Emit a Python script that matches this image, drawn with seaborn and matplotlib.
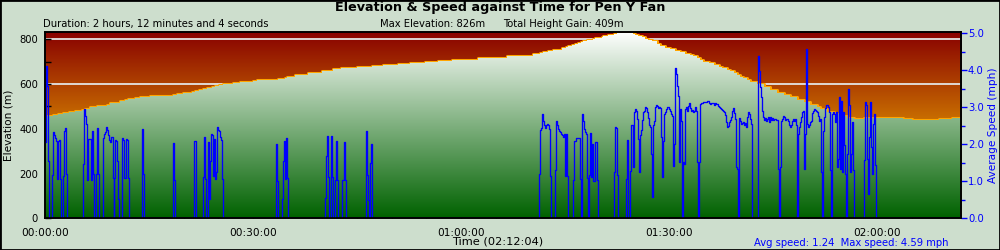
import numpy as np
import matplotlib
matplotlib.use("Agg")
import matplotlib.pyplot as plt
from matplotlib.colors import LinearSegmentedColormap
from matplotlib.patches import PathPatch, Rectangle
from matplotlib.ticker import MultipleLocator, FuncFormatter, FormatStrFormatter
import seaborn as sns
import pandas as pd

# ---------------- data (time in minutes) ----------------
elev_time = [0.00, 1.20, 1.92, 2.55, 3.50, 4.33, 5.29, 5.77, 6.49, 7.46, 8.65, 8.90, 9.37,
             10.10, 10.82, 11.54, 12.01, 12.98, 13.70, 14.18, 15.14, 18.42, 18.50, 19.08,
             19.86, 21.16, 21.63, 22.25, 22.83, 23.32, 24.04, 24.52, 25.10, 25.72, 26.44,
             27.16, 28.12, 29.32, 30.04, 30.53, 31.59, 33.50, 33.65, 34.62, 34.95, 36.06,
             37.25, 37.98, 38.94, 39.91, 40.86, 41.58, 42.55, 42.69, 44.96, 47.12, 48.79,
             50.96, 52.64, 54.81, 56.72, 58.66, 60.58, 62.49, 64.66, 66.59, 68.51, 70.43,
             71.39, 71.87, 72.59, 73.31, 74.03, 74.61, 75.10, 75.47, 75.97, 76.44, 76.83,
             77.31, 77.64, 78.13, 79.08, 79.33, 80.29, 80.52, 81.24, 81.97, 82.45, 84.62,
             84.85, 85.09, 85.57, 86.06, 86.54, 87.01, 87.50, 88.22, 88.70, 89.42, 90.14,
             90.86, 91.58, 92.31, 93.03, 93.50, 93.99, 94.47, 94.94, 95.67, 96.39, 97.11,
             97.60, 98.32, 98.80, 99.27, 99.76, 100.24, 100.71, 101.20, 101.68, 102.65,
             103.60, 104.56, 105.53, 106.48, 107.45, 108.41, 109.37, 110.33, 111.30, 111.78,
             112.74, 113.69, 114.66, 115.63, 116.58, 118.02, 123.75, 125.00, 127.17, 128.84,
             130.77, 132.07]
elev_m = [457, 462, 468, 471, 475, 480, 484, 490, 496, 501, 502, 507, 513,
          517, 523, 529, 534, 536, 540, 544, 545, 545, 550, 554,
          559, 563, 569, 574, 578, 583, 587, 592, 596, 599, 600,
          604, 608, 611, 615, 618, 620, 620, 624, 629, 633, 638,
          642, 647, 651, 656, 660, 665, 666, 671, 675, 681, 686,
          690, 694, 697, 702, 706, 709, 714, 718, 723, 727, 732,
          738, 742, 747, 750, 754, 759, 765, 770, 775, 779, 785,
          788, 793, 797, 800, 806, 809, 815, 820, 824, 826, 826,
          824, 820, 815, 809, 803, 797, 790, 779, 772, 763, 756,
          748, 741, 735, 729, 723, 715, 708, 700, 693, 686, 678,
          671, 663, 656, 648, 641, 633, 626, 618, 611, 599,
          586, 574, 562, 550, 540, 529, 519, 508, 496, 489,
          477, 465, 455, 447, 443, 447, 443, 437, 440, 443,
          447, 444]

speed_time = [
    0.00, 0.14, 0.29, 0.43, 0.58, 1.05, 1.11, 1.25, 1.40, 1.54, 1.69, 1.83, 1.98, 2.12, 2.26,
    2.60, 2.74, 2.88, 3.03, 3.17,
    5.48, 5.62, 5.77, 5.91, 6.06, 6.13, 6.25, 6.63, 6.78, 6.92, 7.07, 7.36, 7.50, 7.64, 7.79,
    8.37, 8.51, 8.65, 8.80, 8.94, 9.09, 9.23, 9.37, 9.52, 9.66, 9.74, 9.88, 9.95, 10.14, 10.28,
    10.43, 10.57, 10.72, 11.11, 11.25, 11.39, 11.54, 11.68, 11.83, 11.97, 12.12,
    13.99, 14.13, 14.28, 18.42, 18.46, 18.61, 18.75, 21.42, 21.53, 21.71, 21.78,
    22.79, 22.93, 23.08, 23.22, 23.47, 23.61, 23.75, 23.94, 24.09, 24.23, 24.37, 24.52, 24.66,
    24.81, 25.00, 25.14, 25.28, 25.43, 25.57, 25.72,
    33.32, 33.46, 33.61, 34.18, 34.33, 34.51, 34.66, 34.80, 34.95, 35.09,
    40.38, 40.53, 40.67, 40.82, 40.96, 41.25, 41.39, 41.54, 41.83, 41.97, 42.11, 42.26,
    42.84, 43.05, 43.27, 43.41, 46.30, 46.44, 46.59, 46.73, 46.87, 47.02, 47.16,
    71.25, 71.39, 71.54, 71.68, 71.87, 72.01, 72.16, 72.30, 72.44, 72.59, 72.73, 72.88, 73.02,
    73.60, 73.70, 73.84, 73.99, 74.13, 74.28, 74.42, 74.57, 74.71, 74.85, 75.00, 75.14, 75.29,
    75.43, 76.15, 76.30, 76.58, 77.16, 77.31, 77.45, 77.59, 77.74, 77.88, 78.03, 78.17, 78.31,
    78.46, 78.60, 78.75, 78.89, 79.04, 79.32, 79.61, 79.76,
    82.11, 82.21, 82.36, 82.50, 82.60, 83.80, 83.94, 84.08,
    84.37, 84.51, 84.66, 84.80, 84.95, 85.09, 85.24, 85.38, 85.52, 85.67, 85.81, 85.96, 86.10,
    86.25, 86.39, 86.54, 86.68, 86.82, 86.97, 87.11, 87.26, 87.40, 87.54, 87.69, 87.83, 87.98,
    88.12, 88.27, 88.41, 88.56, 88.70, 88.84, 88.99, 89.13, 89.28, 89.42, 89.57, 89.71, 89.85,
    90.00, 90.14, 90.29, 90.43, 90.58, 90.72, 90.86, 91.01, 91.15, 91.30, 91.44, 91.59, 91.73,
    91.87, 92.02, 92.16, 92.31, 92.45, 92.60, 92.74, 92.88, 93.03, 93.17, 93.32, 93.46, 93.61,
    93.75, 93.89, 94.04, 94.18, 94.33, 94.47, 94.62, 94.76, 94.90, 95.05, 95.19, 95.34, 95.48,
    95.63, 95.77, 95.91, 96.06, 96.20, 96.35, 96.49, 96.64, 96.78, 96.92, 97.07, 97.21, 97.36,
    97.50, 97.65, 97.79, 97.93, 98.08, 98.22, 98.37, 98.51, 98.66, 98.80, 98.94, 99.09, 99.23,
    99.38, 99.52, 99.67, 99.81, 99.95, 100.10, 100.24, 100.39, 100.53, 100.68, 100.82, 100.96,
    101.11, 101.25, 101.40, 101.54, 101.69, 101.83, 101.97,
    102.84, 102.98, 103.13, 103.27, 103.42, 103.56, 103.70, 103.85, 103.99, 104.14, 104.28,
    104.43, 104.57, 104.71, 104.86, 105.00, 105.15, 105.29, 105.44, 105.58, 105.72, 105.87,
    106.01, 106.16, 106.30, 106.45, 106.59, 106.73, 106.88, 107.02, 107.17, 107.31, 107.46,
    107.60, 107.74, 107.89, 108.03, 108.18, 108.32, 108.47, 108.61, 108.75, 108.90, 109.04,
    109.19, 109.33, 109.48, 109.62, 109.76, 109.91, 110.05, 110.20, 110.34, 110.49, 110.63,
    110.77, 110.92, 111.06, 111.21, 111.35, 111.50, 111.64, 111.78, 111.93, 112.07, 112.22,
    112.36, 112.51, 112.65, 112.79, 112.94, 113.08, 113.23, 113.37, 113.52, 113.66, 113.80,
    113.95, 114.09, 114.24, 114.38, 114.53, 114.67, 114.81, 114.96, 115.10, 115.25, 115.39,
    115.54, 115.68, 115.82, 115.97, 116.11, 116.26, 116.40, 116.55, 116.69,
    118.13, 118.28, 118.42, 118.57, 118.71, 118.86, 119.00, 119.15, 119.29, 119.43, 119.58,
    119.72, 119.87, 132.07]
speed_mph = [
    2.06, 4.12, 3.58, 1.54, 0, 1.16, 2.33, 2.26, 2.17, 2.08, 1.06, 2.08, 2.12, 1.06, 0,
    1.15, 2.37, 2.45, 1.21, 0,
    1.48, 2.96, 2.78, 2.54, 1.03, 2.10, 2.15, 1.03, 2.37, 1.19, 0, 1.21, 2.45, 1.21, 0,
    2.18, 2.27, 2.33, 2.46, 2.40, 2.24, 2.13, 2.06, 2.20, 2.20, 1.08, 0, 1.08, 2.12, 2.08,
    1.54, 0.51, 0, 2.18, 2.13, 1.08, 1.08, 2.15, 2.12, 1.08, 0,
    2.42, 1.21, 0, 1.03, 2.04, 1.03, 0, 1.06, 2.10, 1.03, 0,
    1.12, 2.21, 1.06, 0, 2.05, 0.52, 1.55, 2.28, 2.26, 1.15, 2.15, 1.06, 1.25,
    2.48, 2.39, 2.37, 2.21, 2.13, 1.06, 0,
    2.02, 1.00, 0, 0.51, 1.54, 2.08, 1.06, 2.18, 1.08, 0,
    0.54, 1.68, 2.23, 1.12, 0, 2.23, 1.12, 0, 1.03, 2.10, 1.03, 0,
    1.03, 2.05, 1.03, 0, 2.35, 1.16, 0.49, 0, 1.50, 2.02, 0,
    1.19, 2.40, 2.44, 2.82, 2.64, 2.51, 2.45, 2.51, 2.55, 2.51, 2.42, 1.14, 0,
    1.30, 2.62, 2.51, 2.42, 2.37, 2.33, 2.27, 2.24, 2.20, 2.27, 1.14, 2.28, 1.14,
    0, 1.03, 2.08, 2.18, 1.06, 0, 2.82, 2.64, 2.42, 2.33, 2.28, 1.08, 0,
    1.16, 2.32, 1.12, 2.02, 1.00, 2.05, 1.03, 0,
    1.24, 2.48, 2.43, 1.18, 0, 1.06, 2.13, 0,
    1.27, 2.53, 2.51, 1.39, 2.87, 2.96, 2.91, 2.69, 2.15, 1.25, 2.24, 2.39, 2.66,
    2.87, 2.91, 3.00, 2.98, 2.87, 2.72, 2.51, 2.46, 1.75, 0.58, 2.51, 2.64, 3.00,
    3.07, 3.05, 2.98, 3.00, 2.98, 2.20, 1.12, 2.10, 2.82, 2.87, 2.96, 3.00, 3.02,
    2.96, 2.89, 2.82, 2.78, 1.42, 2.02, 4.06, 3.90, 3.58, 3.32, 1.52, 2.96, 2.64,
    0, 1.52, 1.48, 2.96, 3.00, 2.91, 3.05, 3.11, 2.98, 2.91, 2.93, 2.87, 2.91,
    3.02, 2.91, 1.52, 0, 1.52, 3.09, 3.11, 3.11, 3.14, 3.15, 3.14, 3.15, 3.18,
    3.16, 3.11, 3.09, 3.11, 3.12, 3.11, 3.07, 3.11, 3.09, 3.09, 3.05, 3.00, 2.98,
    2.96, 2.93, 2.89, 2.87, 2.80, 2.60, 2.46, 2.49, 2.60, 2.66, 2.73, 2.91, 2.97,
    2.84, 2.69, 1.39, 1.34, 0, 2.71, 2.64, 2.55, 2.57, 2.60, 2.53, 2.57,
    2.46, 2.73, 2.87, 2.82, 2.69, 2.55, 0,
    4.39, 3.99, 3.54, 3.27, 2.91, 2.75, 2.66, 2.71, 2.64, 2.69, 2.73,
    2.60, 2.73, 2.66, 2.71, 2.66, 2.69, 2.69, 2.66, 2.66, 1.34, 0,
    1.39, 2.64, 2.69, 2.78, 2.73, 2.66, 2.69, 2.69, 2.64, 2.51, 2.46,
    2.51, 2.64, 2.69, 2.64, 2.69, 2.51, 0, 2.28, 2.46, 2.60, 2.73,
    2.87, 2.91, 1.34, 2.28, 4.59, 2.55, 2.46, 2.51, 2.60, 2.64, 2.84,
    2.91, 2.96, 2.93, 2.91, 2.87, 2.78, 2.64, 2.69, 1.25, 0, 2.37,
    2.75, 2.98, 3.07, 3.07, 3.00, 2.87, 1.30, 0, 2.82, 2.87, 2.82,
    2.60, 2.87, 1.39, 1.61, 3.27, 1.34, 3.18, 1.25, 2.87, 1.97, 1.21,
    0, 1.75, 3.49, 3.07, 1.25, 1.75, 2.60, 1.30, 0,
    1.57, 3.14, 3.07, 1.61, 0.67, 2.20, 3.14, 1.93, 1.21, 2.55, 2.82,
    1.43, 0, 0]

x_major_labels_step = 30   # minutes
title = "Elevation & Speed against Time for Pen Y Fan"
duration_text = "Duration: 2 hours, 12 minutes and 4 seconds"
max_elev_text = "Max Elevation: 826m"
gain_text = "Total Height Gain: 409m"
xlabel_text = "Time (02:12:04)"
speed_summary = "Avg speed: 1.24  Max speed: 4.59 mph"

DURATION_MIN = 132.07
ELEV_TOP = 831
SPEED_TOP = 5.03

# ---------------- style ----------------
sns.set_theme(style="white")
plt.rcParams["font.family"] = ["DejaVu Sans"]
plt.rcParams["text.color"] = "black"
plt.rcParams["axes.labelcolor"] = "black"
BG = "#cddecd"

fig = plt.figure(figsize=(10, 2.5), dpi=100, facecolor=BG)
ax = fig.add_axes([0.045, 0.1268, 0.916, 0.744])
ax.set_xlim(0, DURATION_MIN)
ax.set_ylim(0, ELEV_TOP)

grad = np.linspace(0, 1, 512).reshape(-1, 1)
sky = LinearSegmentedColormap.from_list("sky", [(0, "#ffae00"), (0.5, "#cc7400"), (1, "#880000")])
hill = LinearSegmentedColormap.from_list("hill", [(0, "#006200"), (1, "#ffffff")])
ax.imshow(grad, cmap=sky, origin="lower", aspect="auto",
          extent=[0, DURATION_MIN, 0, ELEV_TOP], zorder=0, interpolation="bilinear")

ax.yaxis.set_major_locator(MultipleLocator(200))
ax.yaxis.set_minor_locator(MultipleLocator(100))
for yv in ax.get_yticks():
    if 0 < yv < ELEV_TOP:
        ax.axhline(yv, color="#e4e4e4", lw=1.3, zorder=0.5)

# elevation area
sns.lineplot(x=elev_time, y=elev_m, ax=ax, color="#ffa500", lw=2.2, drawstyle="steps-post",
             estimator=None, sort=False, zorder=1)
poly = ax.fill_between(elev_time, elev_m, 0, step="post", facecolor="none", edgecolor="none")
patch = PathPatch(poly.get_paths()[0], transform=ax.transData, facecolor="none", edgecolor="none")
ax.add_patch(patch)
im = ax.imshow(grad, cmap=hill, origin="lower", aspect="auto",
               extent=[0, DURATION_MIN, 0, ELEV_TOP], zorder=2, interpolation="bilinear")
im.set_clip_path(patch)
ax.set_xlim(0, DURATION_MIN)
ax.set_ylim(0, ELEV_TOP)

# speed line
ax2 = ax.twinx()
sns.lineplot(x=speed_time, y=speed_mph, ax=ax2, color="#0000ff", lw=0.95,
             drawstyle="steps-post", estimator=None, sort=False)
ax2.set_ylim(0, SPEED_TOP)
ax2.set_xlim(0, DURATION_MIN)

# ticks
def hms(v, pos):
    m = int(round(v))
    return f"{m // 60:02d}:{m % 60:02d}:00"

ax.xaxis.set_major_locator(MultipleLocator(x_major_labels_step))
ax.xaxis.set_minor_locator(MultipleLocator(5))
ax.xaxis.set_major_formatter(FuncFormatter(hms))
ax.tick_params(axis="x", which="major", direction="in", length=5, width=1, colors="black",
               labelsize=7.6, pad=7, bottom=True, top=False, labelbottom=True)
ax.tick_params(axis="x", which="minor", direction="in", length=3, width=1, colors="black",
               bottom=True, top=False)
ax.tick_params(axis="y", which="both", direction="in", length=4, width=1, colors="black",
               labelsize=7.2, pad=5, left=True, right=False)

ax2.yaxis.set_major_locator(MultipleLocator(1))
ax2.yaxis.set_minor_locator(MultipleLocator(0.5))
ax2.yaxis.set_major_formatter(FormatStrFormatter("%.1f"))
ax2.tick_params(axis="y", which="major", direction="out", length=4, width=1, colors="#0000ff",
                labelsize=7.2, pad=1, right=True, left=False)
ax2.tick_params(axis="y", which="minor", direction="out", length=3, width=1, colors="#0000ff",
                right=True, left=False)
ax2.grid(False)
ax.grid(False)

for a in (ax, ax2):
    for s in a.spines.values():
        s.set_color("black")
        s.set_linewidth(1.2)
        s.set_zorder(6)

ax.set_xlabel("")
ax2.set_xlabel("")
ax.set_ylabel("Elevation (m)", fontsize=7.6, color="black")
ax.yaxis.set_label_coords(-0.034, 0.5)
ax2.set_ylabel("Average Speed (mph)", fontsize=7.6, color="#0000ff")
ax2.yaxis.set_label_coords(1.030, 0.5)

# texts
fig.text(0.5, 1 - 8 / 250, title, ha="center", va="center", fontsize=9.2, fontweight="bold",
         color="black")
fig.text(0.043, 1 - 24 / 250, duration_text, ha="left", va="center", fontsize=7.2, color="black")
fig.text(0.380, 1 - 24 / 250, max_elev_text, ha="left", va="center", fontsize=7.2, color="black")
fig.text(0.503, 1 - 24 / 250, gain_text, ha="left", va="center", fontsize=7.2, color="black")
fig.text(0.498, 1 - 242 / 250, xlabel_text, ha="center", va="center", fontsize=8.2, color="black")
fig.text(0.948, 1 - 243 / 250, speed_summary, ha="right", va="center", fontsize=7.2, color="#0000ff")

fig.patches.append(Rectangle((0, 0), 1, 1, transform=fig.transFigure, fill=False,
                             edgecolor="black", lw=2, zorder=10))

fig.savefig("out.png", dpi=100, facecolor=BG)
